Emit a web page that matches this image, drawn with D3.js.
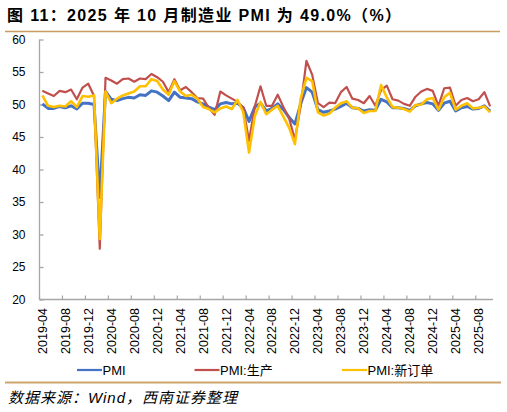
<!DOCTYPE html>
<html>
<head>
<meta charset="utf-8">
<script src="https://cdn.jsdelivr.net/npm/d3@7"></script>
<style>
  body { margin: 0; background: #fff; }
  svg { display: block; font-family: "Liberation Sans", Arial, "Noto Sans CJK SC", sans-serif; }
</style>
</head>
<body>
<div class="chart"></div>
<script>
// monthly, 2019-04 .. 2025-10
var months = [];
for (var y = 2019; y <= 2025; y++) {
  for (var m = 1; m <= 12; m++) {
    if (y === 2019 && m < 4) continue;
    if (y === 2025 && m > 10) continue;
    months.push(y + '-' + (m < 10 ? '0' + m : m));
  }
}

var pmi = [
  50.1, 49.4, 49.4, 49.7, 49.5, 49.8, 49.3, 50.2, 50.2,
  50.0, 35.7, 52.0, 50.8, 50.6, 50.9, 51.1, 51.0, 51.5, 51.4, 52.1, 51.9,
  51.3, 50.6, 51.9, 51.1, 51.0, 50.9, 50.4, 50.1, 49.6, 49.2, 50.1, 50.3,
  50.1, 50.2, 49.5, 47.4, 49.6, 50.2, 49.0, 49.4, 50.1, 49.2, 48.0, 47.0,
  50.1, 52.6, 51.9, 49.2, 48.8, 49.0, 49.3, 49.7, 50.2, 49.5, 49.4, 49.0,
  49.2, 49.1, 50.8, 50.4, 49.5, 49.5, 49.4, 49.1, 49.8, 50.1, 50.3, 50.1,
  49.1, 50.2, 50.5, 49.0, 49.5, 49.7, 49.3, 49.4, 49.8, 49.0
];
var production = [
  52.1, 51.7, 51.3, 52.1, 51.9, 52.3, 50.8, 52.6, 53.2,
  51.3, 27.8, 54.1, 53.7, 53.2, 53.9, 54.0, 53.5, 54.0, 53.9, 54.7, 54.2,
  53.5, 51.9, 53.9, 52.2, 52.7, 51.9, 51.0, 50.9, 49.5, 48.4, 52.0, 51.4,
  50.9, 50.4, 49.5, 44.4, 49.7, 52.8, 49.8, 49.8, 51.5, 49.6, 47.8, 44.6,
  49.8, 56.7, 54.6, 50.2, 49.6, 50.3, 50.2, 51.9, 52.7, 50.9, 50.7, 50.2,
  51.3, 49.8, 52.2, 52.9, 50.8, 50.6, 50.1, 49.8, 51.2, 52.0, 52.4, 52.1,
  49.8, 52.5, 52.6, 49.8, 50.7, 51.0, 50.5, 50.8, 51.9, 49.7
];
var newOrders = [
  51.4, 49.8, 49.6, 49.8, 49.7, 50.5, 49.6, 51.3, 51.2,
  51.4, 29.3, 52.0, 50.2, 50.9, 51.4, 51.7, 52.0, 52.8, 52.8, 53.9, 53.6,
  52.3, 51.5, 53.6, 52.0, 51.3, 51.5, 50.9, 49.6, 49.3, 48.8, 49.4, 49.7,
  49.3, 50.7, 48.8, 42.6, 48.2, 50.4, 48.5, 49.2, 49.8, 48.1, 46.4, 43.9,
  50.9, 54.1, 53.6, 48.8, 48.3, 48.6, 49.5, 50.2, 50.5, 49.5, 49.4, 48.7,
  49.0, 49.0, 53.0, 51.1, 49.6, 49.5, 49.3, 48.9, 49.9, 50.0, 50.8, 51.0,
  49.2, 51.1, 51.8, 49.2, 49.8, 50.2, 49.4, 49.5, 49.7, 48.8
];

var seriesNames = ['PMI', 'PMI:生产', 'PMI:新订单'];
var seriesColors = ['#4472C4', '#C0504D', '#FFC000'];
var seriesWidths = [3, 2.2, 2.6];
var yTicks = [20, 25, 30, 35, 40, 45, 50, 55, 60];

var width = 507, height = 412;
var margin = {left: 39.5, right: 14, top: 39.5, bottom: 112.5};

var svg = d3.select('.chart').append('svg')
  .attr('width', width)
  .attr('height', height);

// title + rules
svg.append('text')
  .attr('x', 7)
  .attr('y', 21)
  .attr('font-size', 16)
  .attr('font-weight', 'bold')
  .attr('letter-spacing', 1.35)
  .attr('fill', '#000')
  .text('图 11：2025 年 10 月制造业 PMI 为 49.0%（%）');
svg.append('line')
  .attr('x1', 5).attr('x2', 500)
  .attr('y1', 31.5).attr('y2', 31.5)
  .attr('stroke', '#C89B5E').attr('stroke-width', 1.3);
svg.append('line')
  .attr('x1', 5).attr('x2', 501)
  .attr('y1', 382.5).attr('y2', 382.5)
  .attr('stroke', '#CDA56A').attr('stroke-width', 2);

var x = d3.scaleBand()
  .domain(months)
  .range([margin.left, width - margin.right])
  .padding(0);
var y = d3.scaleLinear()
  .domain([20, 60])
  .range([height - margin.bottom, margin.top]);

var axisColor = '#A6A6A6';

// y axis, ticks inward
var yAxis = svg.append('g')
  .attr('transform', 'translate(' + margin.left + ',0)')
  .call(d3.axisRight(y).tickValues(yTicks).tickSize(4).tickFormat(''));
yAxis.select('.domain').attr('stroke', axisColor).attr('stroke-width', 1.3)
  .attr('d', 'M0,' + y(20) + 'V' + y(60));
yAxis.selectAll('.tick line').attr('stroke', axisColor).attr('stroke-width', 1.3);
svg.append('g').selectAll('text')
  .data(yTicks)
  .enter().append('text')
  .attr('x', 25.5)
  .attr('y', function(d) { return y(d); })
  .attr('dy', '0.36em')
  .attr('text-anchor', 'end')
  .attr('font-size', 12)
  .attr('fill', '#000')
  .text(function(d) { return d; });

// x axis: tick marks on category boundaries every 4 months, labels centered
var labelMonths = months.filter(function(d, i) { return i % 4 === 0; });
var xAxis = svg.append('g')
  .attr('transform', 'translate(0,' + y(20) + ')')
  .call(d3.axisTop(x).tickValues(labelMonths).tickSize(4).tickFormat(''));
xAxis.select('.domain').attr('stroke', axisColor).attr('stroke-width', 1.3)
  .attr('d', 'M' + margin.left + ',0H' + (width - margin.right));
xAxis.selectAll('.tick')
  .attr('transform', function(d) { return 'translate(' + x(d) + ',0)'; });
xAxis.selectAll('.tick line').attr('stroke', axisColor).attr('stroke-width', 1.2);

svg.append('g').selectAll('text')
  .data(labelMonths)
  .enter().append('text')
  .attr('transform', function(d) {
    return 'translate(' + (x(d) + x.bandwidth() / 2) + ',' + (y(20) + 8.5) + ') rotate(-90)';
  })
  .attr('dy', '0.36em')
  .attr('text-anchor', 'end')
  .attr('font-size', 12.5)
  .attr('fill', '#000')
  .text(function(d) { return d; });

// lines
var line = d3.line()
  .x(function(d, i) { return x(months[i]) + x.bandwidth() / 2; })
  .y(function(d) { return y(d); });

[pmi, production, newOrders].forEach(function(values, k) {
  svg.append('path')
    .datum(values)
    .attr('fill', 'none')
    .attr('stroke', seriesColors[k])
    .attr('stroke-width', seriesWidths[k])
    .attr('stroke-linejoin', 'round')
    .attr('d', line);
});

// legend
var legendX = [77, 194.5, 342];
var legend = svg.append('g').selectAll('g')
  .data(seriesNames)
  .enter().append('g')
  .attr('transform', function(d, i) { return 'translate(' + legendX[i] + ',370)'; });
legend.append('line')
  .attr('x1', 0).attr('x2', 25)
  .attr('stroke', function(d, i) { return seriesColors[i]; })
  .attr('stroke-width', 2.2);
legend.append('text')
  .attr('x', 25.5)
  .attr('dy', '0.36em')
  .attr('font-size', 13)
  .attr('fill', '#000')
  .text(function(d) { return d; });

// source
svg.append('text')
  .attr('x', 8)
  .attr('y', 403)
  .attr('font-size', 15)
  .attr('font-style', 'italic')
  .attr('letter-spacing', 1)
  .attr('fill', '#000')
  .text('数据来源：Wind，西南证券整理');
</script>
</body>
</html>
